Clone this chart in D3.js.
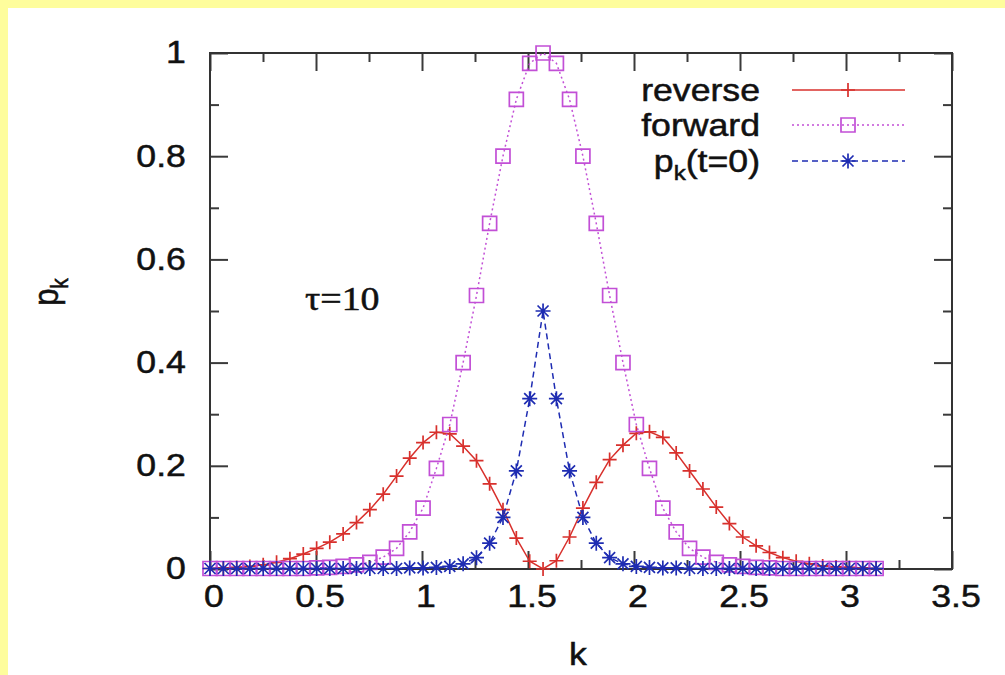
<!DOCTYPE html>
<html>
<head>
<meta charset="utf-8">
<script src="https://cdn.jsdelivr.net/npm/d3@7"></script>
<style>
html,body{margin:0;padding:0;background:#fefd9c;}
svg{display:block;}
text{stroke:#111;stroke-width:0.5px;}
</style>
</head>
<body>
<script>
// k grid (0..pi)
const kValues = [0,0.063,0.126,0.188,0.251,0.314,0.377,0.440,0.503,0.565,
  0.628,0.691,0.754,0.817,0.880,0.942,1.005,1.068,1.131,1.194,
  1.257,1.319,1.382,1.445,1.508,1.571,1.634,1.696,1.759,1.822,
  1.885,1.948,2.011,2.073,2.136,2.199,2.262,2.325,2.388,2.450,
  2.513,2.576,2.639,2.702,2.765,2.827,2.890,2.953,3.016,3.079,3.142];

const reverse = [0.001,0.002,0.003,0.005,0.008,0.013,0.020,0.029,0.040,0.052,
  0.068,0.090,0.115,0.145,0.180,0.215,0.245,0.265,0.262,0.238,
  0.210,0.165,0.115,0.060,0.015,0.000,0.016,0.062,0.118,0.168,
  0.212,0.240,0.263,0.266,0.255,0.225,0.190,0.155,0.120,0.088,
  0.062,0.045,0.032,0.022,0.015,0.010,0.006,0.004,0.003,0.002,0.001];

const forward = [0.001,0.001,0.001,0.001,0.001,0.001,0.001,0.001,0.002,0.003,
  0.005,0.008,0.013,0.023,0.040,0.072,0.118,0.195,0.280,0.400,
  0.530,0.670,0.800,0.910,0.980,1.000,0.980,0.910,0.800,0.670,
  0.530,0.400,0.280,0.195,0.118,0.072,0.040,0.023,0.013,0.008,
  0.005,0.003,0.002,0.001,0.001,0.001,0.001,0.001,0.001,0.001,0.001];

const pk0 = [0.001,0.001,0.001,0.001,0.001,0.001,0.001,0.001,0.001,0.001,
  0.001,0.001,0.001,0.001,0.001,0.002,0.002,0.003,0.005,0.010,
  0.022,0.050,0.100,0.190,0.330,0.500,0.330,0.190,0.100,0.050,
  0.022,0.010,0.005,0.003,0.002,0.002,0.001,0.001,0.001,0.001,
  0.001,0.001,0.001,0.001,0.001,0.001,0.001,0.001,0.001,0.001,0.001];

const xTicks = [0,0.5,1,1.5,2,2.5,3,3.5];
const xMinor = [0.25,0.75,1.25,1.75,2.25,2.75,3.25];
const yTicks = [0,0.2,0.4,0.6,0.8,1];
const yMinor = [0.1,0.3,0.5,0.7,0.9];

const series = [
  {name:"reverse", values:reverse, color:"#d8302c", dash:null, mark:"plus"},
  {name:"forward", values:forward, color:"#c24fd6", dash:"2,3", mark:"square"},
  {name:"pk", values:pk0, color:"#1e2cb2", dash:"6,4", mark:"star"}
];

const W = 1005, H = 675;
const svg = d3.select("body").append("svg").attr("width",W).attr("height",H);
svg.append("rect").attr("x",8).attr("y",8).attr("width",W-8).attr("height",H-8).attr("fill","#fff");

const x = d3.scaleLinear().domain([0,3.5]).range([210,952]);
const y = d3.scaleLinear().domain([0,1]).range([569,53]);

const font = "'Liberation Sans', Arial, sans-serif";
const stretch = "scale(1.15,1)";

function styleAxis(g){
  g.select(".domain").remove();
  g.selectAll(".tick line").attr("stroke","#3a3a3a").attr("stroke-width",2);
  g.selectAll(".tick text").attr("font-family",font).attr("font-size",31).attr("fill","#111")
    .attr("transform",stretch);
}

// bottom / left with labels
svg.append("g").attr("transform",`translate(0,${y(0)})`)
  .call(d3.axisBottom(x).tickValues(xTicks).tickSize(-18).tickPadding(16).tickFormat(d3.format("")))
  .call(styleAxis)
  .call(g=>g.selectAll(".tick text").attr("dx",3));
svg.append("g").attr("transform",`translate(${x(0)},0)`)
  .call(d3.axisLeft(y).tickValues(yTicks).tickSize(-18).tickPadding(21).tickFormat(d3.format("")))
  .call(styleAxis);
// mirrored major ticks
svg.append("g").attr("transform",`translate(0,${y(1)})`)
  .call(d3.axisTop(x).tickValues(xTicks).tickSize(-18).tickFormat(""))
  .call(styleAxis);
svg.append("g").attr("transform",`translate(${x(3.5)},0)`)
  .call(d3.axisRight(y).tickValues(yTicks).tickSize(-18).tickFormat(""))
  .call(styleAxis);
// minor ticks
svg.append("g").attr("transform",`translate(0,${y(0)})`)
  .call(d3.axisBottom(x).tickValues(xMinor).tickSize(-9).tickFormat("")).call(styleAxis);
svg.append("g").attr("transform",`translate(0,${y(1)})`)
  .call(d3.axisTop(x).tickValues(xMinor).tickSize(-9).tickFormat("")).call(styleAxis);
svg.append("g").attr("transform",`translate(${x(0)},0)`)
  .call(d3.axisLeft(y).tickValues(yMinor).tickSize(-9).tickFormat("")).call(styleAxis);
svg.append("g").attr("transform",`translate(${x(3.5)},0)`)
  .call(d3.axisRight(y).tickValues(yMinor).tickSize(-9).tickFormat("")).call(styleAxis);

// frame
svg.append("rect").attr("x",x(0)).attr("y",y(1))
  .attr("width",x(3.5)-x(0)).attr("height",y(0)-y(1))
  .attr("fill","none").attr("stroke","#333").attr("stroke-width",2);

// markers
const markPath = {
  plus:"M-7,0H7M0,-7V7",
  star:"M-7.5,0H7.5M0,-7.5V7.5M-5.5,-5.5L5.5,5.5M-5.5,5.5L5.5,-5.5",
  square:"M-7,-7H7V7H-7Z"
};

const line = d3.line().x((d,i)=>x(kValues[i])).y(d=>y(d));

series.forEach(s=>{
  const g = svg.append("g");
  g.append("path").attr("d",line(s.values)).attr("fill","none")
    .attr("stroke",s.color).attr("stroke-width",1.5)
    .attr("stroke-dasharray",s.dash);
  g.selectAll("path.m").data(s.values).join("path").attr("class","m")
    .attr("transform",(d,i)=>`translate(${x(kValues[i])},${y(d)})`)
    .attr("d",markPath[s.mark]).attr("fill","none")
    .attr("stroke",s.color).attr("stroke-width",1.7);
});

// legend
const legY = [90,125,161];
series.forEach((s,i)=>{
  const t = svg.append("text").attr("transform",`translate(760,${legY[i]}) ${stretch}`)
    .attr("text-anchor","end").attr("dy","0.35em")
    .attr("font-family",font).attr("font-size",31).attr("fill","#111");
  if(s.name==="pk"){
    t.append("tspan").text("p");
    t.append("tspan").attr("font-size",21).attr("dy",8).text("k");
    t.append("tspan").attr("dy",-8).text("(t=0)");
  } else t.text(s.name);
  svg.append("line").attr("x1",792).attr("x2",905).attr("y1",legY[i]).attr("y2",legY[i])
    .attr("stroke",s.color).attr("stroke-width",1.5).attr("stroke-dasharray",s.dash);
  svg.append("path").attr("transform",`translate(848,${legY[i]})`)
    .attr("d",markPath[s.mark]).attr("fill","none").attr("stroke",s.color).attr("stroke-width",1.7);
});

// axis titles
svg.append("text").attr("transform",`translate(578,654) ${stretch}`).attr("text-anchor","middle")
  .attr("dy","0.35em").attr("font-family",font).attr("font-size",31).attr("fill","#111").text("k");
const yl = svg.append("text").attr("transform","translate(46,292) rotate(-90) scale(1,1.15)")
  .attr("text-anchor","middle").attr("dy","0.35em")
  .attr("font-family",font).attr("font-size",31).attr("fill","#111");
yl.append("tspan").text("p");
yl.append("tspan").attr("font-size",21).attr("dy",8).text("k");

// tau annotation
svg.append("text").attr("transform",`translate(305,298) ${stretch}`).attr("dy","0.35em")
  .attr("font-family","'Liberation Serif', 'Times New Roman', serif").attr("font-size",33)
  .attr("fill","#111").attr("stroke-width",0.3).text("τ=10");
</script>
</body>
</html>
